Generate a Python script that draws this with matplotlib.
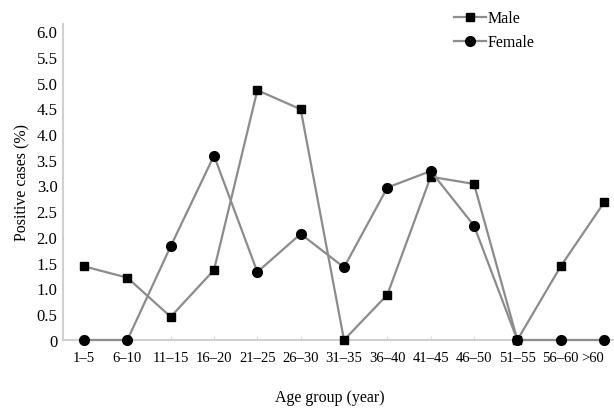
import matplotlib
matplotlib.use("Agg")
import matplotlib.pyplot as plt
from matplotlib.ticker import FixedLocator, FixedFormatter

categories = ["1–5", "6–10", "11–15", "16–20", "21–25", "26–30", "31–35",
              "36–40", "41–45", "46–50", "51–55", "56–60", ">60"]
male = [1.43, 1.21, 0.45, 1.36, 4.85, 4.48, 0.0, 0.88, 3.17, 3.03, 0.0, 1.43, 2.67]
female = [0.0, 0.0, 1.82, 3.58, 1.32, 2.06, 1.41, 2.96, 3.28, 2.22, 0.0, 0.0, 0.0]
yticks = [0, 0.5, 1.0, 1.5, 2.0, 2.5, 3.0, 3.5, 4.0, 4.5, 5.0, 5.5, 6.0]
ytick_labels = ["0", "0.5", "1.0", "1.5", "2.0", "2.5", "3.0", "3.5", "4.0", "4.5", "5.0", "5.5", "6.0"]

plt.rcParams['font.family'] = ['Liberation Serif', 'DejaVu Serif']

fig = plt.figure(figsize=(6.14, 4.10), dpi=100)
ax = fig.add_axes([63/614, 1 - 341/410, 551/614, (341 - 25) / 410])

x = list(range(len(categories)))
line_color = "#8c8c8c"
ax.plot(x, male, color=line_color, lw=1.6, marker="s", ms=6, mfc="black", mec="black", label="Male", zorder=3, clip_on=False)
ax.plot(x, female, color=line_color, lw=1.6, marker="o", ms=7, mfc="black", mec="black", label="Female", zorder=3, clip_on=False)

ax.set_xlim(-0.485, 12.23)
ax.set_ylim(0, 6.0 * 316 / 309)
ax.yaxis.set_major_locator(FixedLocator(yticks))
ax.yaxis.set_major_formatter(FixedFormatter(ytick_labels))
ax.set_xticks(x)
ax.set_xticklabels(categories)
ax.tick_params(axis='y', length=0, pad=4, labelsize=12)
ax.tick_params(axis='x', length=3, direction='in', color="#dddddd", pad=8, labelsize=10.5)
last = ax.get_xticklabels()[-1]
last.set_horizontalalignment("right")

for s in ["top", "right"]:
    ax.spines[s].set_visible(False)
for s in ["left", "bottom"]:
    ax.spines[s].set_color("#d0d0d0")
    ax.spines[s].set_linewidth(1.5)

ax.set_ylabel("Positive cases (%)", fontsize=11.5, labelpad=4)
fig.text(330/614, 1 - 398/410, "Age group (year)", ha="center", va="center", fontsize=11.5)

leg = ax.legend(loc="upper left", bbox_to_anchor=(443/614, 1.0), bbox_transform=fig.transFigure,
                frameon=False, fontsize=11.5, handlelength=2.0, handletextpad=0.1, labelspacing=0.5,
                borderpad=0.2)

fig.savefig("out.png", dpi=100)
